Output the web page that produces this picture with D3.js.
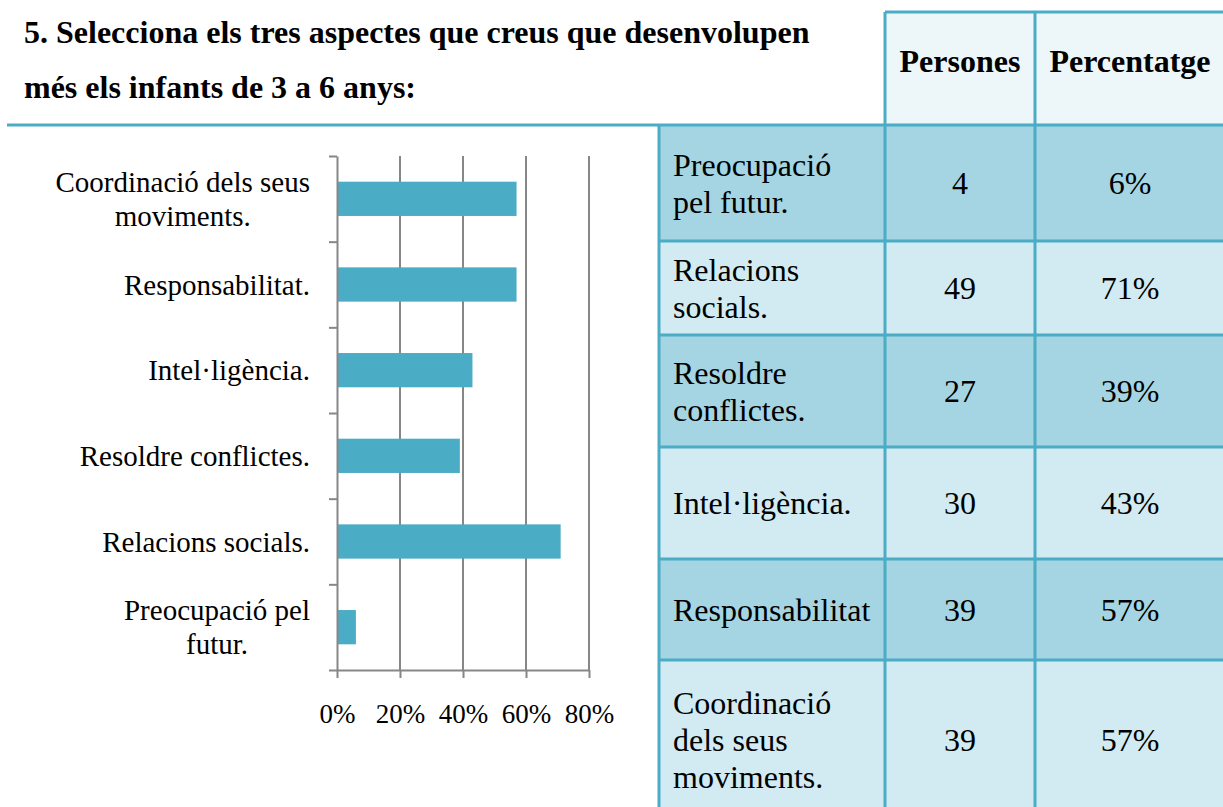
<html lang="ca">

<head>
    <meta charset="UTF-8">
    <script src="https://d3js.org/d3.v7.min.js"></script>
    <title>Aspectes que desenvolupen els infants</title>
    <style>
        body {
            margin: 0;
            background: #fff;
        }

        svg text {
            font-family: 'Liberation Serif', 'DejaVu Serif', serif;
        }
    </style>
</head>

<body>
    <section></section>

    <script>
        // data (table order, top to bottom)
        const aspectes = ['Preocupació pel futur.', 'Relacions socials.', 'Resoldre conflictes.',
            'Intel·ligència.', 'Responsabilitat.', 'Coordinació dels seus moviments.'];
        const persones = [4, 49, 27, 30, 39, 39];
        const percentatge = [6, 71, 39, 43, 57, 57];
        // how the labels are broken in the chart and in the table
        const chartLabels = [['Preocupació pel', 'futur.'], ['Relacions socials.'], ['Resoldre conflictes.'],
            ['Intel·ligència.'], ['Responsabilitat.'], ['Coordinació dels seus', 'moviments.']];
        const tableLabels = [['Preocupació', 'pel futur.'], ['Relacions', 'socials.'], ['Resoldre', 'conflictes.'],
            ['Intel·ligència.'], ['Responsabilitat'], ['Coordinació', 'dels seus', 'moviments.']];
        const xTicks = [0, 20, 40, 60, 80];
        const headers = ['Persones', 'Percentatge'];
        const titleLines = ['5. Selecciona els tres aspectes que creus que desenvolupen',
            'més els infants de 3 a 6 anys:'];

        const w = 1223;
        const h = 807;
        const teal = '#4bacc6';
        const grey = '#878787';
        const serif = "'Liberation Serif', 'DejaVu Serif', serif";

        const svg = d3.select('section')
            .append('svg')
            .attr('width', w)
            .attr('height', h)
            .style('display', 'block');

        // ---- title
        svg.selectAll('.title')
            .data(titleLines)
            .enter()
            .append('text')
            .attr('class', 'title')
            .attr('x', 24)
            .attr('y', (d, i) => 43 + i * 55)
            .style('font-size', '32px')
            .style('font-weight', 'bold')
            .text(d => d);

        // ---- table
        const colX = [659, 885, 1035, 1225];
        const rowY = [125, 241, 335, 447, 559, 660, 820]; // row edges, rows are not all same height
        const headTop = 12;
        const rowFill = ['#a5d5e2', '#d2eaf1'];

        svg.append('rect')
            .attr('x', colX[1]).attr('y', headTop)
            .attr('width', colX[3] - colX[1]).attr('height', rowY[0] - headTop)
            .attr('fill', '#edf6f9');

        const rows = svg.selectAll('.row')
            .data(aspectes)
            .enter()
            .append('g')
            .attr('class', 'row');

        rows.append('rect')
            .attr('x', colX[0])
            .attr('y', (d, i) => rowY[i])
            .attr('width', colX[3] - colX[0])
            .attr('height', (d, i) => rowY[i + 1] - rowY[i])
            .attr('fill', (d, i) => rowFill[i % 2]);

        const lh = 37;
        rows.each(function (d, i) {
            const g = d3.select(this);
            const mid = (rowY[i] + rowY[i + 1]) / 2;
            const lines = tableLabels[i];
            g.selectAll('text.lbl')
                .data(lines)
                .enter()
                .append('text')
                .attr('class', 'lbl')
                .attr('x', colX[0] + 14)
                .attr('y', (t, j) => mid - (lines.length - 1) / 2 * lh + j * lh + 11)
                .style('font-size', '32px')
                .text(t => t);
            g.append('text')
                .attr('x', (colX[1] + colX[2]) / 2)
                .attr('y', mid + 11)
                .attr('text-anchor', 'middle')
                .style('font-size', '32px')
                .text(persones[i]);
            g.append('text')
                .attr('x', (colX[2] + colX[3]) / 2)
                .attr('y', mid + 11)
                .attr('text-anchor', 'middle')
                .style('font-size', '32px')
                .text(percentatge[i] + '%');
        });

        svg.selectAll('.head')
            .data(headers)
            .enter()
            .append('text')
            .attr('class', 'head')
            .attr('x', (d, i) => (colX[i + 1] + colX[i + 2]) / 2)
            .attr('y', 72)
            .attr('text-anchor', 'middle')
            .style('font-size', '32px')
            .style('font-weight', 'bold')
            .text(d => d);

        // borders
        const borders = svg.append('g')
            .attr('stroke', teal)
            .attr('stroke-width', 3);
        borders.append('line').attr('x1', 7).attr('x2', colX[3]).attr('y1', rowY[0]).attr('y2', rowY[0]);
        borders.append('line').attr('x1', colX[1]).attr('x2', colX[3]).attr('y1', headTop).attr('y2', headTop);
        rowY.slice(1).forEach(y => {
            borders.append('line').attr('x1', colX[0]).attr('x2', colX[3]).attr('y1', y).attr('y2', y);
        });
        borders.append('line').attr('x1', colX[0]).attr('x2', colX[0]).attr('y1', rowY[0]).attr('y2', h + 20);
        [colX[1], colX[2]].forEach(x => {
            borders.append('line').attr('x1', x).attr('x2', x).attr('y1', headTop).attr('y2', h + 20);
        });

        // ---- bar chart (Excel draws the categories bottom-up)
        const plotTop = 156, plotBottom = 670, plotLeft = 337;
        const chartOrder = d3.range(aspectes.length).reverse();

        const xScale = d3.scaleLinear()
            .domain([0, 80])
            .range([plotLeft, 589]);

        const yScale = d3.scaleBand()
            .domain(chartOrder)
            .range([plotTop, plotBottom])
            .paddingInner(0.6)
            .paddingOuter(0.3);

        const yEdges = d3.scaleLinear()
            .domain([0, aspectes.length])
            .range([plotTop, plotBottom]);

        // gridlines
        svg.append('g')
            .selectAll('line')
            .data(xTicks.slice(1))
            .enter()
            .append('line')
            .attr('x1', d => xScale(d)).attr('x2', d => xScale(d))
            .attr('y1', plotTop).attr('y2', plotBottom)
            .attr('stroke', grey)
            .attr('stroke-width', 2);

        svg.selectAll('.bar')
            .data(chartOrder)
            .enter()
            .append('rect')
            .attr('class', 'bar')
            .attr('x', xScale(0))
            .attr('y', d => yScale(d))
            .attr('width', d => xScale(percentatge[d]) - xScale(0))
            .attr('height', yScale.bandwidth())
            .attr('fill', teal);

        const xAxis = d3.axisBottom(xScale)
            .tickValues(xTicks)
            .tickFormat(d => d + '%')
            .tickSize(8)
            .tickSizeOuter(0)
            .tickPadding(26);

        const gx = svg.append('g')
            .attr('transform', 'translate(0,' + plotBottom + ')')
            .call(xAxis);

        const yAxis = d3.axisLeft(yEdges)
            .ticks(aspectes.length)
            .tickFormat('')
            .tickSize(8)
            .tickSizeOuter(0);

        const gy = svg.append('g')
            .attr('transform', 'translate(' + plotLeft + ',0)')
            .call(yAxis);

        [gx, gy].forEach(g => {
            g.attr('font-family', null).attr('font-size', null);
            g.selectAll('path, line').attr('stroke', grey).attr('stroke-width', 2);
        });
        gx.selectAll('text')
            .attr('fill', '#000')
            .style('font-size', '27px');

        // category labels, multi-line ones centred as a block
        const labelRight = 310;
        const llh = 34;
        chartOrder.forEach(i => {
            const lines = chartLabels[i];
            const mid = yScale(i) + yScale.bandwidth() / 2;
            const txt = svg.append('g').selectAll('text')
                .data(lines)
                .enter()
                .append('text')
                .attr('y', (t, j) => mid - (lines.length - 1) / 2 * llh + j * llh + 10)
                .style('font-size', '29px')
                .text(t => t);
            if (lines.length > 1) {
                let maxW = 0;
                txt.each(function () { maxW = Math.max(maxW, this.getComputedTextLength()); });
                txt.attr('x', labelRight - maxW / 2).attr('text-anchor', 'middle');
            } else {
                txt.attr('x', labelRight).attr('text-anchor', 'end');
            }
        });

        svg.selectAll('text').style('font-family', serif);
    </script>
</body>

</html>
